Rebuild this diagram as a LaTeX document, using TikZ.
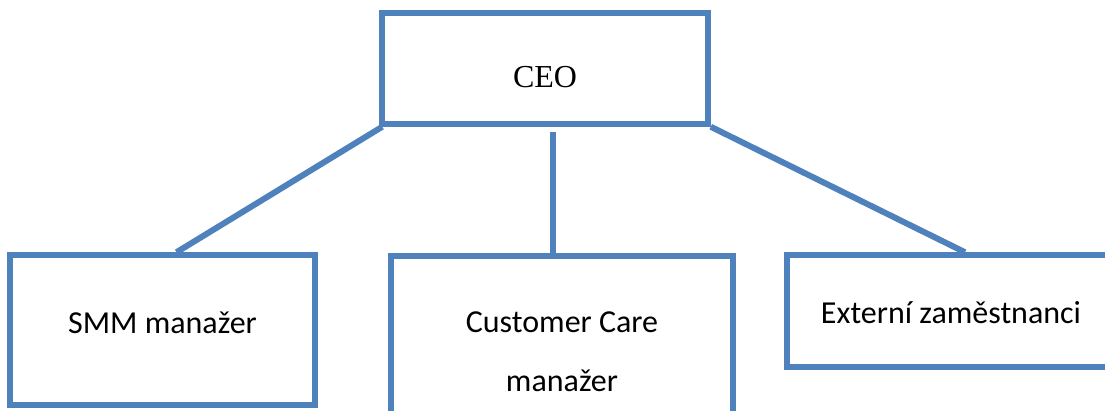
\documentclass[tikz,border=0pt]{standalone}
\usepackage{fontspec}
\setmainfont{Carlito}
\newfontfamily\timesfont{Liberation Serif}
\definecolor{boxblue}{RGB}{79,129,189}
\begin{document}
\begin{tikzpicture}[x=1pt, y=-1pt,
    unit/.style={draw=boxblue, line width=5.5pt, fill=white, inner sep=0pt,
                 align=center, font=\fontsize{32}{59}\selectfont},
    link/.style={draw=boxblue, line width=6pt}]
   \useasboundingbox (0,0) rectangle (1105,410);
   \clip (0,0) rectangle (1105,410);
   % top of the chart
   \node[unit, minimum width=326pt, minimum height=111pt, text height=40pt, text depth=3pt,
         font=\fontsize{32}{38}\timesfont] (ceo) at (545,68.5) {CEO};
   % three units below
   \node[unit, minimum width=305pt, minimum height=150pt, text height=20pt, text depth=14pt]
      (smm) at (162.5,330) {SMM manažer};
   \node[unit, minimum width=342pt, minimum height=192pt] (care) at (562,352) {Customer Care\\manažer};
   \node[unit, minimum width=328pt, minimum height=112pt, text height=30pt, text depth=6pt]
      (ext) at (951,311) {Externí zaměstnanci};
   % connectors
   \draw[link] ([xshift=3pt]ceo.south west) -- ([xshift=14pt]smm.north);
   \draw[link] ([xshift=8pt, yshift=-5pt]ceo.south) -- ([xshift=-9pt]care.north);
   \draw[link] (ceo.south east) -- ([xshift=14pt]ext.north);
  \end{tikzpicture}
\end{document}
